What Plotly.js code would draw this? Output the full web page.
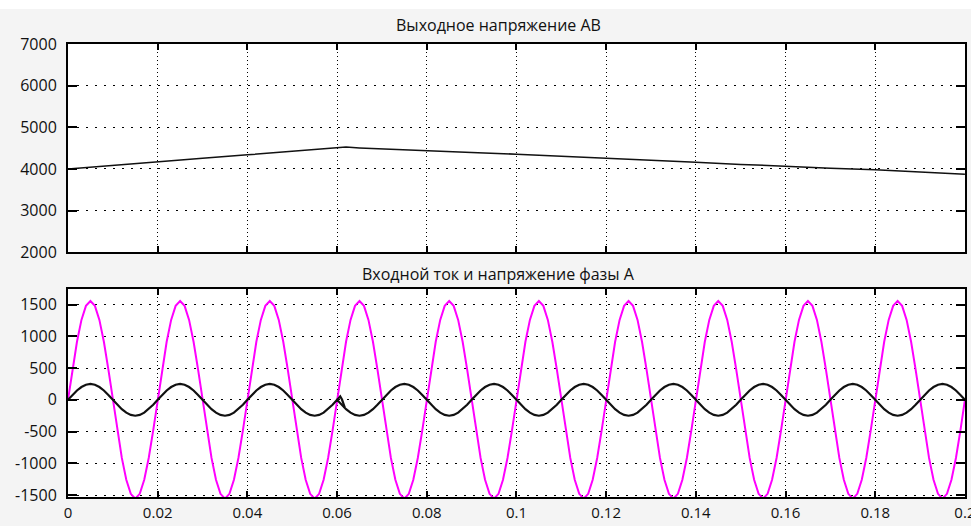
<!DOCTYPE html>
<html>
<head>
<meta charset="utf-8">
<script src="https://cdn.plot.ly/plotly-3.0.1.min.js"></script>
<style>
  html, body { margin: 0; padding: 0; background: #ffffff; }
  #chart { width: 971px; height: 526px; }
</style>
</head>
<body>
<div id="chart"></div>
<script>
// ---- Data ----
const titleTop = "Выходное напряжение AB";
const titleBottom = "Входной ток и напряжение фазы A";

// Output voltage AB (top panel)
const voltT = [0, 0.01, 0.02, 0.03, 0.04, 0.05, 0.055, 0.06, 0.062, 0.065, 0.07, 0.08, 0.09, 0.10, 0.11, 0.12, 0.13, 0.14, 0.15, 0.16, 0.17, 0.18, 0.19, 0.20];
const voltV = [4000, 4090, 4180, 4260, 4340, 4425, 4470, 4515, 4525, 4505, 4480, 4435, 4395, 4355, 4310, 4260, 4210, 4160, 4110, 4060, 4020, 3980, 3930, 3875];

// Phase A voltage, sampled every 1 ms from t = 0 (magenta)
const sampleStart = 0;
const sampleStep = 0.001;
const phaseVoltage = [
  0, 481, 915, 1259, 1480, 1556, 1480, 1259, 915, 481, 0, -481, -915, -1259, -1480, -1556, -1480, -1259, -915, -481,
  0, 481, 915, 1259, 1480, 1556, 1480, 1259, 915, 481, 0, -481, -915, -1259, -1480, -1556, -1480, -1259, -915, -481,
  0, 481, 915, 1259, 1480, 1556, 1480, 1259, 915, 481, 0, -481, -915, -1259, -1480, -1556, -1480, -1259, -915, -481,
  0, 481, 915, 1259, 1480, 1556, 1480, 1259, 915, 481, 0, -481, -915, -1259, -1480, -1556, -1480, -1259, -915, -481,
  0, 481, 915, 1259, 1480, 1556, 1480, 1259, 915, 481, 0, -481, -915, -1259, -1480, -1556, -1480, -1259, -915, -481,
  0, 481, 915, 1259, 1480, 1556, 1480, 1259, 915, 481, 0, -481, -915, -1259, -1480, -1556, -1480, -1259, -915, -481,
  0, 481, 915, 1259, 1480, 1556, 1480, 1259, 915, 481, 0, -481, -915, -1259, -1480, -1556, -1480, -1259, -915, -481,
  0, 481, 915, 1259, 1480, 1556, 1480, 1259, 915, 481, 0, -481, -915, -1259, -1480, -1556, -1480, -1259, -915, -481,
  0, 481, 915, 1259, 1480, 1556, 1480, 1259, 915, 481, 0, -481, -915, -1259, -1480, -1556, -1480, -1259, -915, -481,
  0, 481, 915, 1259, 1480, 1556, 1480, 1259, 915, 481, 0, -481, -915, -1259, -1480, -1556, -1480, -1259, -915, -481,
  0
];

// Phase A input current, sampled every 1 ms (black); reverses at t = 0.06
const phaseCurrent = [
  0, 77, 147, 202, 238, 250, 238, 202, 147, 77, 0, -77, -147, -202, -238, -250, -238, -202, -147, -77,
  0, 77, 147, 202, 238, 250, 238, 202, 147, 77, 0, -77, -147, -202, -238, -250, -238, -202, -147, -77,
  0, 77, 147, 202, 238, 250, 238, 202, 147, 77, 0, -77, -147, -202, -238, -250, -238, -202, -147, -77,
  0, -77, -147, -202, -238, -250, -238, -202, -147, -77, 0, 77, 147, 202, 238, 250, 238, 202, 147, 77,
  0, -77, -147, -202, -238, -250, -238, -202, -147, -77, 0, 77, 147, 202, 238, 250, 238, 202, 147, 77,
  0, -77, -147, -202, -238, -250, -238, -202, -147, -77, 0, 77, 147, 202, 238, 250, 238, 202, 147, 77,
  0, -77, -147, -202, -238, -250, -238, -202, -147, -77, 0, 77, 147, 202, 238, 250, 238, 202, 147, 77,
  0, -77, -147, -202, -238, -250, -238, -202, -147, -77, 0, 77, 147, 202, 238, 250, 238, 202, 147, 77,
  0, -77, -147, -202, -238, -250, -238, -202, -147, -77, 0, 77, 147, 202, 238, 250, 238, 202, 147, 77,
  0, -77, -147, -202, -238, -250, -238, -202, -147, -77, 0, 77, 147, 202, 238, 250, 238, 202, 147, 77,
  0
];

// Short transient spike of the current at the reversal instant
const spikeT = [0.0599, 0.0604, 0.0607, 0.0611, 0.0617];
const spikeV = [-10, 35, 55, 5, -120];

// Axis ticks
const xTickVals = [0, 0.02, 0.04, 0.06, 0.08, 0.1, 0.12, 0.14, 0.16, 0.18, 0.2];
const xTickText = ["0", "0.02", "0.04", "0.06", "0.08", "0.1", "0.12", "0.14", "0.16", "0.18", "0.2"];
const yTopTickVals = [2000, 3000, 4000, 5000, 6000, 7000];
const yTopTickText = ["2000", "3000", "4000", "5000", "6000", "7000"];
const yBotTickVals = [-1500, -1000, -500, 0, 500, 1000, 1500];
const yBotTickText = ["-1500", "-1000", "-500", "0", "500", "1000", "1500"];

// ---- Chart ----
const FONT = "Open Sans, Noto Sans, DejaVu Sans, sans-serif";

const traces = [
  { type: "scatter", mode: "lines", x: voltT, y: voltV, xaxis: "x", yaxis: "y",
    line: { color: "#111111", width: 1.5 }, hoverinfo: "skip" },
  { type: "scatter", mode: "lines", x0: sampleStart, dx: sampleStep, y: phaseVoltage, xaxis: "x2", yaxis: "y2",
    line: { color: "#ff00ff", width: 2 }, hoverinfo: "skip" },
  { type: "scatter", mode: "lines", x0: sampleStart, dx: sampleStep, y: phaseCurrent, xaxis: "x2", yaxis: "y2",
    line: { color: "#111111", width: 2.2 }, hoverinfo: "skip" },
  { type: "scatter", mode: "lines", x: spikeT, y: spikeV, xaxis: "x2", yaxis: "y2",
    line: { color: "#111111", width: 2.2 }, hoverinfo: "skip" }
];

const commonX = {
  range: [0, 0.20002], tickmode: "array", tickvals: xTickVals, ticktext: xTickText,
  showline: true, linecolor: "#000000", linewidth: 2, mirror: "ticks",
  ticks: "inside", ticklen: 6, tickwidth: 2, tickcolor: "#000000",
  showgrid: true, gridcolor: "#000000", gridwidth: 1, griddash: "1px,3px",
  zeroline: false, fixedrange: true, ticklabeloverflow: "allow",
  tickfont: { family: FONT, size: 15, color: "#111111" }
};
const commonY = {
  showline: true, linecolor: "#000000", linewidth: 2, mirror: "ticks",
  ticks: "inside", ticklen: 9, tickwidth: 2, tickcolor: "#000000",
  showgrid: true, gridcolor: "#000000", gridwidth: 1, griddash: "2px,7px",
  zeroline: false, fixedrange: true, tickmode: "array",
  ticklabelstandoff: 6,
  tickfont: { family: FONT, size: 16, color: "#111111" }
};

const layout = {
  width: 971, height: 526,
  paper_bgcolor: "#f4f4f4", plot_bgcolor: "#ffffff",
  margin: { l: 68, r: 6, t: 44, b: 29, pad: 0 },
  showlegend: false,
  xaxis: Object.assign({}, commonX, { anchor: "y", showticklabels: false, domain: [0, 1] }),
  yaxis: Object.assign({}, commonY, { anchor: "x", domain: [0.5402, 1], range: [2000, 7000],
    tickvals: yTopTickVals, ticktext: yTopTickText }),
  xaxis2: Object.assign({}, commonX, { anchor: "y2", showticklabels: true, domain: [0, 1], ticklabelstandoff: 1 }),
  yaxis2: Object.assign({}, commonY, { anchor: "x2", domain: [0, 0.4584], range: [-1530, 1740],
    tickvals: yBotTickVals, ticktext: yBotTickText }),
  shapes: [
    { type: "rect", xref: "paper", yref: "paper", x0: -0.08, x1: 1.01, y0: 1.077, y1: 1.2,
      fillcolor: "#ffffff", line: { width: 0 }, layer: "below" }
  ],
  annotations: [
    { text: titleTop, xref: "paper", yref: "paper", x: 0.48, y: 1.043, xanchor: "center", yanchor: "middle",
      showarrow: false, font: { family: FONT, size: 16, color: "#111111" } },
    { text: titleBottom, xref: "paper", yref: "paper", x: 0.48, y: 0.493, xanchor: "center", yanchor: "middle",
      showarrow: false, font: { family: FONT, size: 16, color: "#111111" } }
  ]
};

Plotly.newPlot("chart", traces, layout, { staticPlot: true, displayModeBar: false });
</script>
</body>
</html>
